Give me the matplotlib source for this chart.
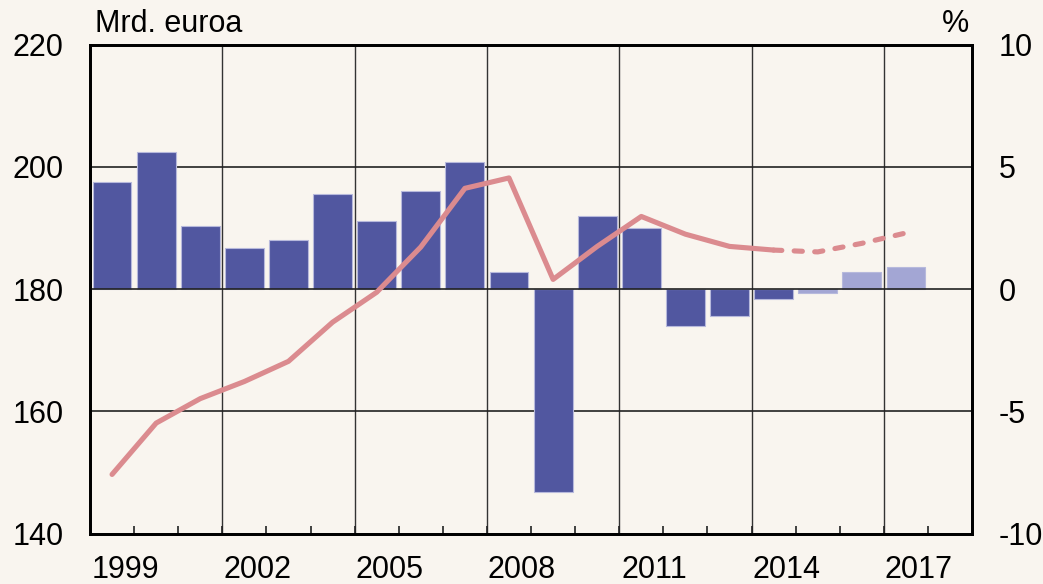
import numpy as np
import matplotlib.pyplot as plt
import matplotlib.transforms as mtransforms
from matplotlib.ticker import FixedLocator

# Finland GDP: level (bn euro, left) and volume change (%, right)

years = list(range(1999, 2018))
change_pct = [4.4, 5.6, 2.6, 1.7, 2.0, 3.9, 2.8, 4.0, 5.2, 0.7,
              -8.3, 3.0, 2.5, -1.5, -1.1, -0.4, -0.15, 0.7, 0.9]
gdp_bn = [149.7, 158.1, 162.1, 164.9, 168.2, 174.6, 179.5, 186.9, 196.5, 198.2,
          181.6, 187.0, 191.9, 189.0, 187.0, 186.4, 186.1, 187.5, 189.2]
first_forecast = 2015
year_labels = ['1999', '2002', '2005', '2008', '2011', '2014', '2017']

bg = '#f9f5ef'
dark = '#5157a0'
light = '#a3a6d4'
red = '#db8b8f'
fs = 22

plt.rcParams['font.family'] = ['Liberation Sans', 'DejaVu Sans']

fig = plt.figure(figsize=(10.43, 5.84), dpi=100, facecolor=bg)
ax = fig.add_axes([0.0863, 0.0861, 0.8457, 0.8374])
ax.set_facecolor(bg)

x = np.array(years)
cols = [light if y >= first_forecast else dark for y in years]
ax.bar(x, change_pct, width=0.88, color=cols, edgecolor='#b7b9dc', linewidth=0.8, zorder=3)

ax.set_xlim(1998.5, 2018.5)
ax.set_ylim(-10, 10)

# grid
for g in [2001.5, 2004.5, 2007.5, 2010.5, 2013.5, 2016.5]:
    ax.axvline(g, color='#333333', lw=1.0, zorder=1)
for h in [-5, 0, 5]:
    ax.axhline(h, color='#222222', lw=1.2, zorder=4 if h == 0 else 1)

ax.set_xticks([int(s) for s in year_labels])
ax.set_xticklabels(year_labels)
ax.xaxis.set_minor_locator(FixedLocator(np.arange(1999.5, 2018.5, 1)))
ax.tick_params(axis='x', which='major', length=0, pad=15, labelsize=fs)
ax.tick_params(axis='x', which='minor', direction='in', length=6, width=1.2, color='#222222')
shift = mtransforms.ScaledTranslation(0.13, 0, fig.dpi_scale_trans)
for lab in ax.get_xticklabels():
    lab.set_transform(lab.get_transform() + shift)

ax2 = ax.twinx()
ax2.set_ylim(140, 220)
ax2.set_yticks([140, 160, 180, 200, 220])

ax.yaxis.tick_right()
ax.set_yticks([-10, -5, 0, 5, 10])
ax.set_yticklabels(['-10', '-5', '0', '5', '10'])
ax2.yaxis.tick_left()
ax.tick_params(axis='y', length=0, pad=19, labelsize=fs)
ax2.tick_params(axis='y', length=0, pad=19, labelsize=fs)

n_solid = years.index(2014) + 1
ax2.plot(x[:n_solid], gdp_bn[:n_solid], color=red, lw=3.7, solid_capstyle='round',
         solid_joinstyle='round', zorder=5)
ax2.plot(x[n_solid - 1:], gdp_bn[n_solid - 1:], color=red, lw=3.7, dashes=(1.6, 2.4),
         dash_capstyle='round', zorder=5)

for a in (ax, ax2):
    for s in a.spines.values():
        s.set_linewidth(2)
        s.set_color('black')

fig.text(0.091, 0.945, 'Mrd. euroa', fontsize=fs, ha='left', va='baseline')
fig.text(0.929, 0.945, '%', fontsize=fs, ha='right', va='baseline')

fig.savefig('out.png', dpi=100, facecolor=bg)
